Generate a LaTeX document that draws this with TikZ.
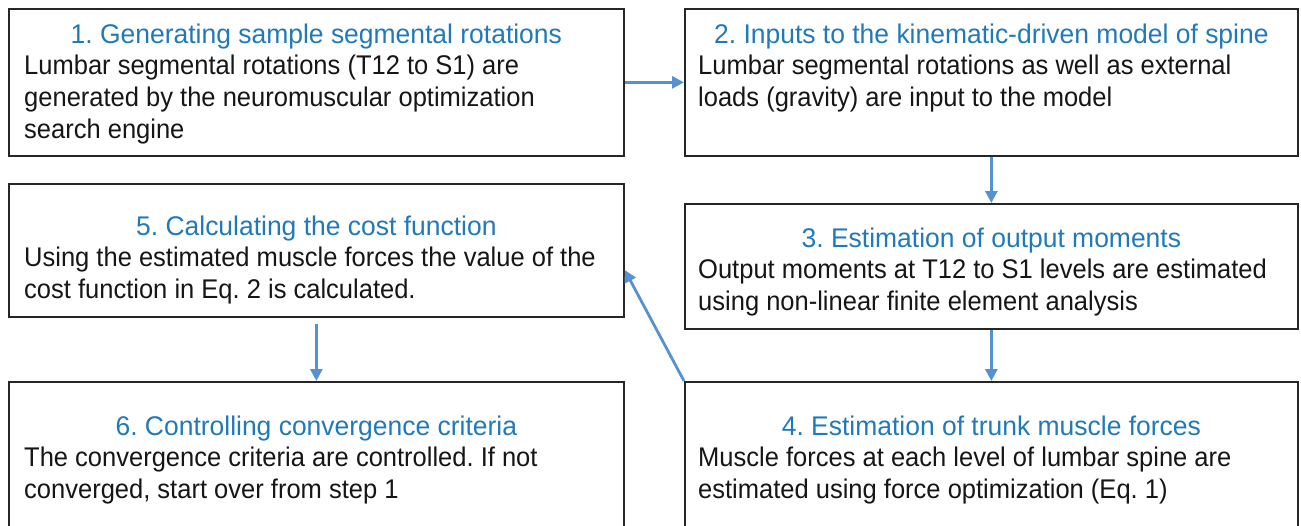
\documentclass[tikz,border=0pt]{standalone}
\usepackage{fontspec}
\setmainfont{Liberation Sans}
\newfontfamily\headfont{Liberation Sans}[FakeStretch=0.98]
\newfontfamily\bodyfont{Liberation Sans}[FakeStretch=0.945]
\usetikzlibrary{arrows.meta}
\definecolor{stepblue}{RGB}{33,122,184}
\definecolor{flowblue}{RGB}{86,146,210}
\definecolor{frame}{RGB}{38,38,38}
\definecolor{ink}{RGB}{22,22,22}
\frenchspacing
\tikzset{
  stepbox/.style={draw=frame, line width=1.7pt, rectangle, inner sep=0pt,
    anchor=north west},
  leftbox/.style={stepbox, minimum width=615pt},
  rightbox/.style={stepbox, minimum width=613pt},
  steptitle/.style={text=stepblue, inner sep=0pt, anchor=base,
    font=\headfont\fontsize{27}{32}\selectfont},
  stepbody/.style={text=ink, inner sep=0pt, anchor=base west,
    font=\bodyfont\fontsize{27}{32}\selectfont},
  flow/.style={draw=flowblue, line width=2.8pt,
    -{Triangle[length=12pt,width=12pt]}},
}
\newcommand{\lines}[1]{\begin{tabular}[t]{@{}l@{}}#1\end{tabular}}
\begin{document}
\begin{tikzpicture}[x=1pt,y=-1pt]
  \useasboundingbox (0,0) rectangle (1301,525);
  \clip (0,0) rectangle (1301,525);
  \fill[white] (0,0) rectangle (1301,525);

  % boxes
  \node[leftbox, minimum height=147pt] (b1) at (8,8) {};
  \node[rightbox, minimum height=147pt] (b2) at (684,8) {};
  \node[leftbox, minimum height=133pt] (b5) at (8,183) {};
  \node[rightbox, minimum height=125pt] (b3) at (684,203) {};
  \node[leftbox, minimum height=170pt] (b6) at (8,381) {};
  \node[rightbox, minimum height=170pt] (b4) at (684,381) {};

  % step 1
  \node[steptitle] (h1) at ([yshift=-35pt]b1.north) {1. Generating sample segmental rotations};
  \node[stepbody] (d1) at ([xshift=16pt,yshift=-66pt]b1.north west)
    {\lines{Lumbar segmental rotations (T12 to S1) are\\generated by the neuromuscular optimization\\search engine}};
  % step 2
  \node[steptitle] (h2) at ([yshift=-35pt]b2.north) {2. Inputs to the kinematic-driven model of spine};
  \node[stepbody] (d2) at ([xshift=14pt,yshift=-66pt]b2.north west)
    {\lines{Lumbar segmental rotations as well as external\\loads (gravity) are input to the model}};
  % step 3
  \node[steptitle] (h3) at ([yshift=-44pt]b3.north) {3. Estimation of output moments};
  \node[stepbody] (d3) at ([xshift=14pt,yshift=-75pt]b3.north west)
    {\lines{Output moments at T12 to S1 levels are estimated\\using non-linear finite element analysis}};
  % step 4
  \node[steptitle] (h4) at ([yshift=-54pt]b4.north) {4. Estimation of trunk muscle forces};
  \node[stepbody] (d4) at ([xshift=14pt,yshift=-85pt]b4.north west)
    {\lines{Muscle forces at each level of lumbar spine are\\estimated using force optimization (Eq. 1)}};
  % step 5
  \node[steptitle] (h5) at ([yshift=-52pt]b5.north) {5. Calculating the cost function};
  \node[stepbody] (d5) at ([xshift=16pt,yshift=-83pt]b5.north west)
    {\lines{Using the estimated muscle forces the value of the\\cost function in Eq. 2 is calculated.}};
  % step 6
  \node[steptitle] (h6) at ([yshift=-54pt]b6.north) {6. Controlling convergence criteria};
  \node[stepbody] (d6) at ([xshift=16pt,yshift=-85pt]b6.north west)
    {\lines{The convergence criteria are controlled. If not\\converged, start over from step 1}};

  % connectors
  \draw[flow] (b1.east) -- (b2.west);
  \draw[flow] (b2.south) -- (b3.north);
  \draw[flow] (b3.south) -- (b4.north);
  \draw[flow, shorten <=6pt] (b5.south) -- (b6.north);
  \coordinate (e5) at ([yshift=-87pt]b5.north east);
  \draw[flow] (b4.north west) -- (e5);
\end{tikzpicture}
\end{document}
